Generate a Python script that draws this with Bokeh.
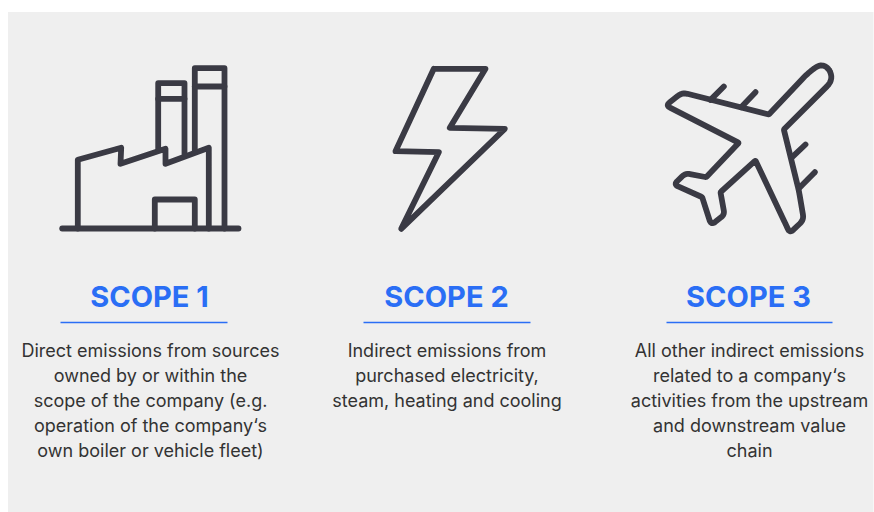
from bokeh.plotting import figure
from bokeh.embed import file_html
from bokeh.resources import INLINE
from bokeh.core.properties import value
import math

titles = ["SCOPE 1", "SCOPE 2", "SCOPE 3"]
title_x = [149, 446, 748]
rule_x0 = [60, 363, 666]
rule_x1 = [227, 530, 832]
bodies = [
    ["Direct emissions from sources", "owned by or within the", "scope of the company (e.g.",
     "operation of the company\u2018s", "own boiler or vehicle fleet)"],
    ["Indirect emissions from", "purchased electricity,", "steam, heating and cooling"],
    ["All other indirect emissions", "related to a company\u2018s", "activities from the upstream",
     "and downstream value", "chain"],
]
body_x = [150, 446.5, 749]
body_y = [349.5, 374.5, 399.5, 424.5, 449.5]

factory = [
    ([61.7, 238], [228, 228]),
    ([77.3, 77.3, 120.7, 120, 165, 165, 208.3, 208.3], [228, 159.3, 147.3, 163.3, 148.3, 163.3, 147.3, 228]),
    ([154.3, 154.3, 194.3, 194.3], [228, 199, 199, 228]),
    ([157.7, 157.7, 184, 184], [148.3, 82.7, 82.7, 153.3]),
    ([157.7, 184], [98.3, 98.3]),
    ([194.3, 194.3, 224, 224], [150, 67.7, 67.7, 228]),
    ([194.3, 224], [86, 86]),
]
bolt = [
    ([433.3, 485, 449.3, 504.3, 400.7, 438.3, 395, 433.3],
     [68.3, 68.3, 127.3, 128.3, 228.3, 151.7, 150.7, 68.3]),
]
# plane outline, in crop units (crop origin 650,50, scale 3): corners with a rounding radius
plane_x = [355, 470, 520, 552, 400, 445, 460, 418, 405, 315, 210, 222, 182, 155, 70, 105, 167, 265, 46, 95]
plane_y = [192, 70, 32, 85, 237, 420, 508, 548, 520, 330, 425, 492, 524, 440, 402, 368, 380, 277, 165, 126]
plane_r = [3, 20, 36, 32, 3, 14, 16, 14, 8, 3, 3, 12, 16, 3, 14, 14, 3, 3, 14, 16]
plane_ticks = [
    ([180, 220], [148, 108]),
    ([272, 315], [170, 125]),
    ([425, 465], [320, 282]),
    ([447, 493], [412, 365]),
]


def rounded(xs, ys, rs):
    """Closed polygon with each corner replaced by a short quadratic curve."""
    n = len(xs)
    ox, oy = [], []
    for i in range(n):
        px, py = xs[i - 1], ys[i - 1]
        cx, cy = xs[i], ys[i]
        nx, ny = xs[(i + 1) % n], ys[(i + 1) % n]
        d0 = math.hypot(px - cx, py - cy)
        d1 = math.hypot(nx - cx, ny - cy)
        r = rs[i]
        ax, ay = cx + (px - cx) * r / d0, cy + (py - cy) * r / d0
        bx, by = cx + (nx - cx) * r / d1, cy + (ny - cy) * r / d1
        for k in range(9):
            t = k / 8
            ox.append((1 - t) ** 2 * ax + 2 * t * (1 - t) * cx + t ** 2 * bx)
            oy.append((1 - t) ** 2 * ay + 2 * t * (1 - t) * cy + t ** 2 * by)
    ox.append(ox[0])
    oy.append(oy[0])
    return ox, oy


rx, ry = rounded(plane_x, plane_y, plane_r)
plane = [([650 + a / 3 for a in rx], [50 + b / 3 for b in ry])]
plane += [([650 + a / 3 for a in xs], [50 + b / 3 for b in ys]) for xs, ys in plane_ticks]

paths = factory + bolt + plane

p = figure(width=874, height=512, x_range=(0, 874), y_range=(512, 0),
           output_backend="svg", toolbar_location=None, min_border=0,
           x_axis_type=None, y_axis_type=None)
p.grid.visible = False
p.outline_line_color = None
p.background_fill_color = "white"
p.border_fill_color = "white"

p.quad(left=[7.5], right=[873], top=[11.5], bottom=[512], fill_color="#efefef", line_color=None)

p.multi_line([a for a, _ in paths], [b for _, b in paths], line_color="#3a3a44", line_width=5.8,
             line_cap="round", line_join="round")

p.segment(rule_x0, [322] * 3, rule_x1, [322] * 3, line_color="#2a6ef5", line_width=1.5)
p.text(title_x, [295.5] * 3, text=titles, text_font=value("Inter"), text_font_style="bold",
       text_font_size="29px", text_color="#2a6ef5", text_align="center", text_baseline="middle")

xs, ys, ts = [], [], []
for cx, lines in zip(body_x, bodies):
    for line, y in zip(lines, body_y):
        xs.append(cx)
        ys.append(y)
        ts.append(line)
p.text(xs, ys, text=ts, text_font=value("Inter"), text_font_size="18px", text_color="#333333",
       text_align="center", text_baseline="middle")

open("out.html", "w").write(file_html(p, INLINE))
